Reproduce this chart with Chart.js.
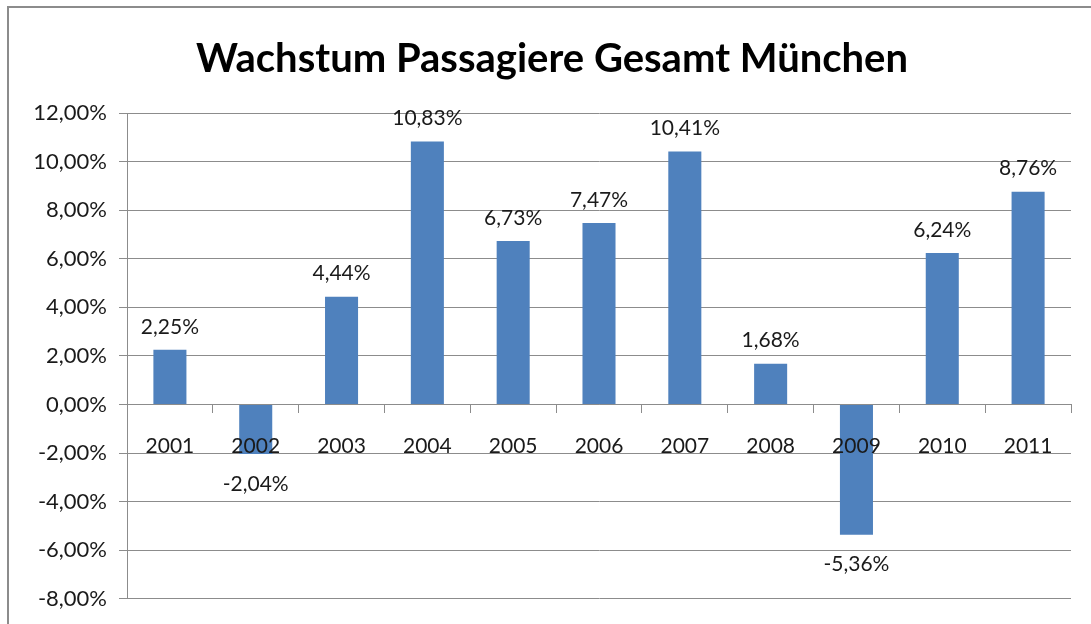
<!DOCTYPE html>
<html>
<head>
<meta charset="utf-8">
<script src="https://cdn.jsdelivr.net/npm/chart.js@4/dist/chart.umd.min.js"></script>
<style>
html,body{margin:0;padding:0;background:#fff;}
#wrap{width:1091px;height:624px;position:relative;}
</style>
</head>
<body>
<div id="wrap"><canvas id="c" width="1091" height="624"></canvas></div>
<script>
const categories = ['2001','2002','2003','2004','2005','2006','2007','2008','2009','2010','2011'];
const growth = [2.25, -2.04, 4.44, 10.83, 6.73, 7.47, 10.41, 1.68, -5.36, 6.24, 8.76];
const yMin = -8, yMax = 12, yStep = 2;
const titleText = 'Wachstum Passagiere Gesamt München';

const FONT = 'Lato, "Open Sans", sans-serif';
const fmt = v => v.toFixed(2).replace('.', ',') + '%';

const frame = {
  id: 'frame',
  beforeDraw(chart) {
    const ctx = chart.ctx;
    ctx.save();
    ctx.fillStyle = '#fff';
    ctx.fillRect(0, 0, chart.width, chart.height);
    ctx.strokeStyle = '#8c8c8c';
    ctx.lineWidth = 2;
    ctx.beginPath();
    ctx.moveTo(8, chart.height + 2);
    ctx.lineTo(8, 7);
    ctx.lineTo(chart.width + 2, 7);
    ctx.stroke();
    ctx.restore();
  }
};

const valueLabels = {
  id: 'valueLabels',
  afterDraw(chart) {
    const ctx = chart.ctx;
    const meta = chart.getDatasetMeta(0);
    ctx.save();
    ctx.font = '21px ' + FONT;
    ctx.fillStyle = '#1a1a1a';
    ctx.textAlign = 'center';
    ctx.textBaseline = 'middle';
    meta.data.forEach((bar, i) => {
      const v = chart.data.datasets[0].data[i];
      const y = v >= 0 ? bar.y - 23 : bar.y + 30;
      ctx.fillText(fmt(v), bar.x, y);
    });
    ctx.restore();
  }
};

new Chart(document.getElementById('c'), {
  type: 'bar',
  data: {
    labels: categories,
    datasets: [{
      data: growth,
      backgroundColor: '#4F81BD',
      borderWidth: 0,
      categoryPercentage: 1,
      barPercentage: 0.385
    }]
  },
  options: {
    responsive: false,
    animation: false,
    layout: { padding: { left: 33, right: 20, top: 0, bottom: 21 } },
    plugins: {
      legend: { display: false },
      tooltip: { enabled: false },
      title: {
        display: true,
        text: titleText,
        color: '#000',
        font: { family: FONT, size: 40, weight: 'bold' },
        padding: { top: 35, bottom: 30 }
      }
    },
    scales: {
      x: {
        position: { y: 0 },
        offset: true,
        grid: { display: true, drawOnChartArea: false, drawTicks: true, tickLength: 8, color: '#8c8c8c', offset: true },
        border: { display: true, color: '#8c8c8c', width: 1, z: 1 },
        ticks: { z: 1, color: '#1a1a1a', font: { family: FONT, size: 21 }, padding: 21, maxRotation: 0 }
      },
      y: {
        min: yMin,
        max: yMax,
        afterFit(scale) { scale.width = 94; },
        ticks: {
          stepSize: yStep,
          color: '#1a1a1a',
          font: { family: FONT, size: 22 },
          padding: 12,
          callback: v => fmt(v)
        },
        grid: { color: '#8c8c8c', tickLength: 8, drawTicks: true },
        border: { display: true, color: '#8c8c8c', width: 1 }
      }
    }
  },
  plugins: [frame, valueLabels]
});
</script>
</body>
</html>
